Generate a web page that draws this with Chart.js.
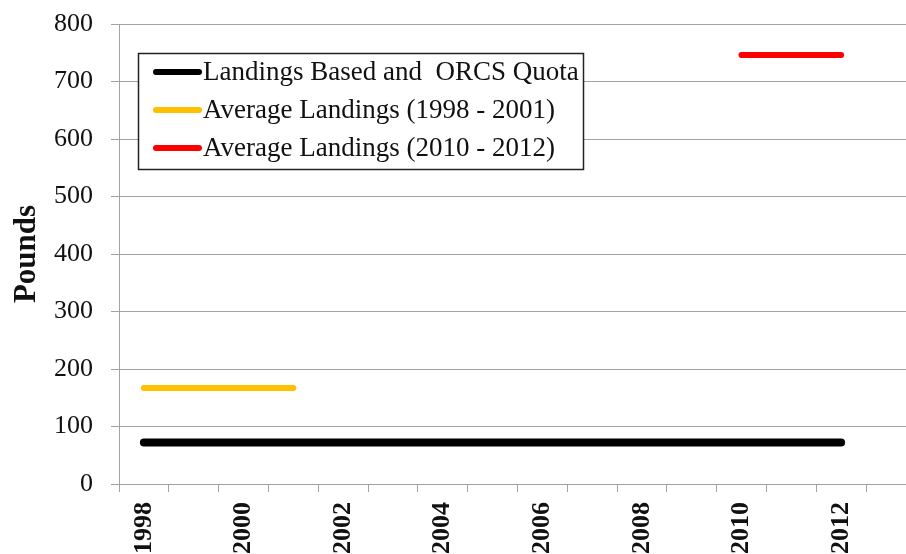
<!DOCTYPE html>
<html>
<head>
<meta charset="utf-8">
<script src="https://cdn.jsdelivr.net/npm/chart.js@4"></script>
<style>
  html, body { margin: 0; padding: 0; background: #fff; }
  #wrap { width: 906px; height: 554px; position: relative; }
</style>
</head>
<body>
<div id="wrap"><canvas id="landingsChart"></canvas></div>
<script>
const years = ['1998', '1999', '2000', '2001', '2002', '2003', '2004', '2005', '2006', '2007', '2008', '2009', '2010', '2011', '2012'];
const quotaLandings = [72, 72, 72, 72, 72, 72, 72, 72, 72, 72, 72, 72, 72, 72, 72];
const avgEarly = [167, 167, 167, 167, null, null, null, null, null, null, null, null, null, null, null];
const avgRecent = [null, null, null, null, null, null, null, null, null, null, null, null, 746, 746, 746];
const yTicks = [0, 100, 200, 300, 400, 500, 600, 700, 800];

const serif = '"Liberation Serif", "Times New Roman", serif';
const gridColor = '#a3a3a3';

// horizontal gridlines run on past the last category to the image edge
const gridExtend = {
  id: 'gridExtend',
  beforeDatasetsDraw(chart) {
    const { ctx, chartArea, scales } = chart;
    ctx.save();
    ctx.strokeStyle = gridColor;
    ctx.lineWidth = 1;
    scales.y.ticks.forEach(t => {
      const y = Math.round(scales.y.getPixelForValue(t.value) - 0.5) + 0.5;
      ctx.beginPath();
      ctx.moveTo(chartArea.right - 1, y);
      ctx.lineTo(chart.width, y);
      ctx.stroke();
    });
    ctx.restore();
  }
};

// boxed legend inside the plot
const boxLegend = {
  id: 'boxLegend',
  afterDraw(chart) {
    const { ctx } = chart;
    const x0 = 138, y0 = 53, w = 445, h = 116;
    ctx.save();
    ctx.fillStyle = '#fff';
    ctx.fillRect(x0, y0, w, h);
    ctx.strokeStyle = '#222';
    ctx.lineWidth = 1.5;
    ctx.strokeRect(x0 + 0.5, y0 + 0.5, w, h);
    ctx.font = '27px ' + serif;
    ctx.textBaseline = 'middle';
    chart.data.datasets.forEach((ds, i) => {
      const y = y0 + 19 + i * 38;
      ctx.strokeStyle = ds.borderColor;
      ctx.lineWidth = 6;
      ctx.lineCap = 'round';
      ctx.beginPath();
      ctx.moveTo(156, y);
      ctx.lineTo(199, y);
      ctx.stroke();
      ctx.fillStyle = '#111';
      ctx.fillText(ds.label, 203, y + 1);
    });
    ctx.restore();
  }
};

new Chart(document.getElementById('landingsChart'), {
  type: 'line',
  data: {
    labels: years,
    datasets: [{
      label: 'Landings Based and  ORCS Quota',
      data: quotaLandings,
      borderColor: '#000000',
      borderWidth: 8,
      borderCapStyle: 'round',
      pointRadius: 0
    }, {
      label: 'Average Landings (1998 - 2001)',
      data: avgEarly,
      borderColor: '#FFC000',
      borderWidth: 6,
      borderCapStyle: 'round',
      pointRadius: 0
    }, {
      label: 'Average Landings (2010 - 2012)',
      data: avgRecent,
      borderColor: '#FF0000',
      borderWidth: 6,
      borderCapStyle: 'round',
      pointRadius: 0
    }]
  },
  options: {
    responsive: true,
    maintainAspectRatio: false,
    animation: false,
    layout: { padding: { top: 0, right: 40, left: 0, bottom: 0 } },
    plugins: { legend: { display: false }, tooltip: { enabled: false } },
    scales: {
      x: {
        offset: true,
        afterFit: axis => { axis.height = 70; },
        grid: { offset: true, drawOnChartArea: false, tickLength: 8, color: gridColor },
        border: { color: gridColor },
        ticks: {
          autoSkip: false,
          maxRotation: 90,
          minRotation: 90,
          padding: 10,
          color: '#111',
          font: { family: serif, size: 26, weight: 'bold' },
          callback: (v, i) => (i % 2 === 0 ? years[i] : '')
        }
      },
      y: {
        min: 0,
        max: 800,
        afterBuildTicks: axis => { axis.ticks = yTicks.map(v => ({ value: v })); },
        afterFit: axis => { axis.width = 119; axis.paddingTop = 24; axis.paddingBottom = 0; },
        grid: { color: gridColor, tickLength: 8 },
        border: { color: gridColor },
        ticks: {
          padding: 18,
          color: '#111',
          font: { family: serif, size: 26 }
        },
        title: {
          display: true,
          text: 'Pounds',
          color: '#111',
          padding: { top: 8, bottom: 0 },
          font: { family: serif, size: 31, weight: 'bold' }
        }
      }
    }
  },
  plugins: [gridExtend, boxLegend]
});
</script>
</body>
</html>
